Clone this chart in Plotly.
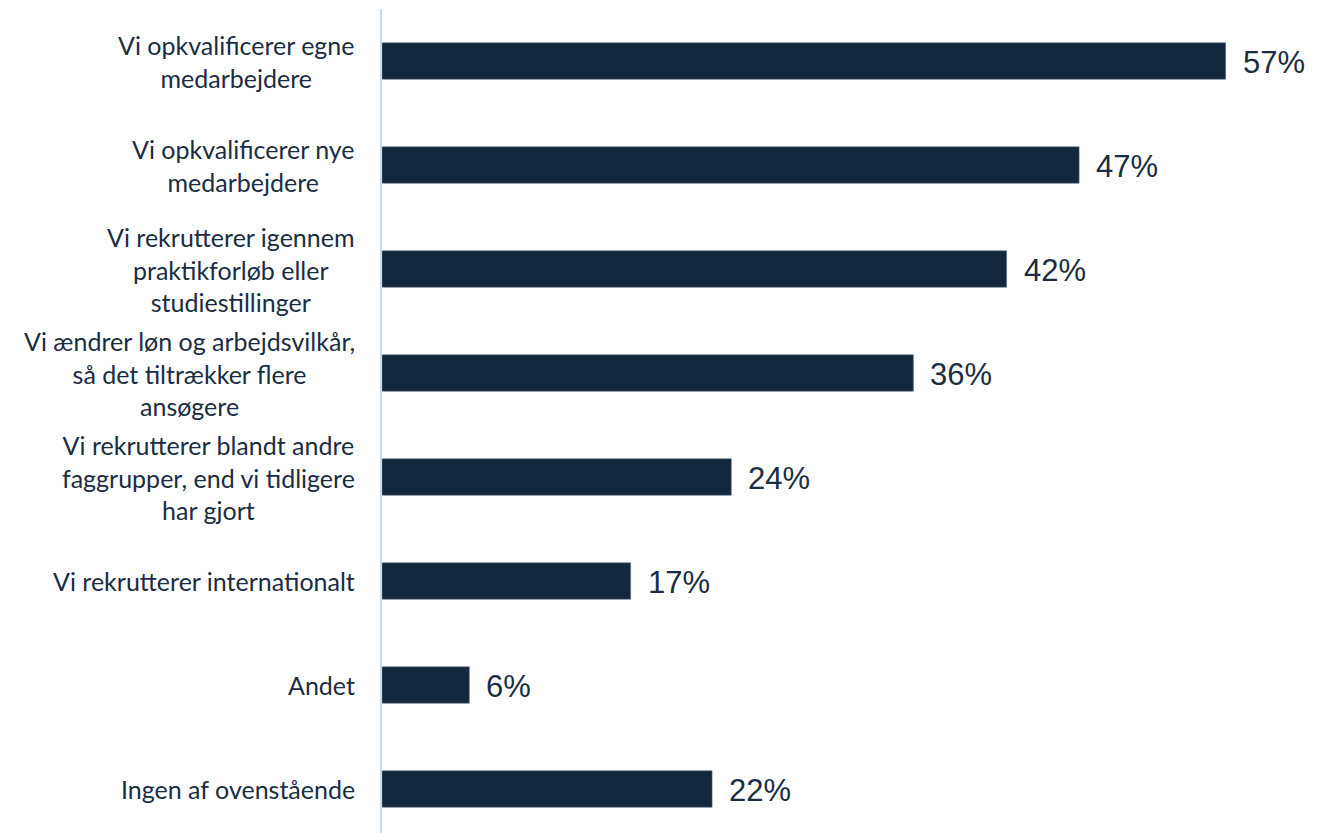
import plotly.graph_objects as go

categories = [
    "Vi opkvalificerer egne<br>medarbejdere",
    "Vi opkvalificerer nye<br>medarbejdere",
    "Vi rekrutterer igennem<br>praktikforløb eller<br>studiestillinger",
    "Vi ændrer løn og arbejdsvilkår,<br>så det tiltrækker flere<br>ansøgere",
    "Vi rekrutterer blandt andre<br>faggrupper, end vi tidligere<br>har gjort",
    "Vi rekrutterer internationalt",
    "Andet",
    "Ingen af ovenstående",
]
values = [57.0, 47.1, 42.2, 35.9, 23.6, 16.8, 5.9, 22.3]
value_labels = ["57%", "47%", "42%", "36%", "24%", "17%", "6%", "22%"]

BAR_COLOR = "#13283d"
TEXT_COLOR = "#1a2d42"
AXIS_COLOR = "#c8dbef"

positions = list(range(len(categories)))

fig = go.Figure()
fig.add_trace(go.Bar(
    x=values,
    y=positions,
    orientation="h",
    width=0.35,
    marker=dict(color=BAR_COLOR, line=dict(color="#5f7184", width=0.6)),
    hoverinfo="skip",
))

annotations = []
for pos, cat, val, lab in zip(positions, categories, values, value_labels):
    annotations.append(dict(
        x=0, xref="paper", y=pos, yref="y",
        text=cat, showarrow=False, xanchor="right", yanchor="middle",
        align="center", xshift=-25,
        font=dict(family="Lato", size=25, color=TEXT_COLOR),
    ))
    annotations.append(dict(
        x=val, xref="x", y=pos, yref="y",
        text=lab, showarrow=False, xanchor="left", yanchor="middle",
        xshift=15, yshift=-1,
        font=dict(family="Liberation Sans", size=31, color=TEXT_COLOR),
    ))

fig.update_layout(
    width=1322, height=825,
    margin=dict(l=374, r=0, t=1, b=0),
    paper_bgcolor="white", plot_bgcolor="white",
    showlegend=False,
    annotations=annotations,
    xaxis=dict(range=[0, 64.05], visible=False, fixedrange=True),
    yaxis=dict(
        range=[7.423, -0.5], showticklabels=False, ticks="",
        showgrid=False, zeroline=False,
        showline=True, linecolor=AXIS_COLOR, linewidth=2, fixedrange=True,
    ),
    bargap=0.65,
)

fig.write_html("out.html")
